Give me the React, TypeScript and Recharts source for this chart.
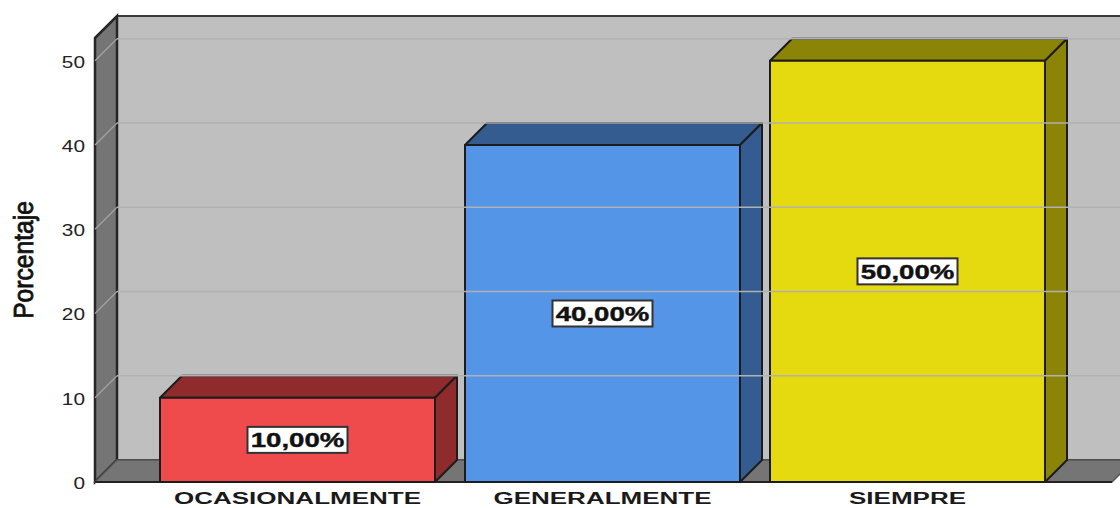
// App.tsx
import React from 'react';
import { BarChart, Bar, XAxis, YAxis, ReferenceArea, ReferenceLine, LabelList } from 'recharts';

// Datos
const categorias = ['OCASIONALMENTE', 'GENERALMENTE', 'SIEMPRE'];
const porcentajes = [10, 40, 50];
const etiquetas = ['10,00%', '40,00%', '50,00%'];
const marcasY = [0, 10, 20, 30, 40, 50];
const coloresFrente = ['#EF4B4D', '#5595E8', '#E5D90F'];
const coloresLado = ['#8F2B2D', '#345C91', '#8C8406'];

const data = categorias.map((name, i) => ({ name, valor: porcentajes[i], etiqueta: etiquetas[i] }));

// profundidad del efecto 3D
const DX = 22;
const DY = 22;
const BORDE = '#1c1c1c';
// relleno del eje X: las paredes se extienden hasta el borde real del área
const PAD_IZQ = 50;
const PAD_DER = 52;

// paredes y piso del fondo
const Paredes = (props: any) => {
  const { y, height } = props;
  const x = props.x - PAD_IZQ;
  const width = props.width + PAD_IZQ + PAD_DER;
  const fondo = y + height - DY;
  return (
    <g>
      <rect x={x + DX} y={y - DY} width={width + 40} height={height} fill="#BFBFBF" stroke="#3a3a3a" strokeWidth={2} />
      <polygon points={`${x},${y} ${x + DX},${y - DY} ${x + DX},${fondo} ${x},${y + height}`} fill="#757575" stroke="#262626" strokeWidth={2.5} />
      <polygon points={`${x},${y + height} ${x + DX},${fondo} ${x + width + DX},${fondo} ${x + width},${y + height}`} fill="#757575" stroke="#555" strokeWidth={1.5} />
      <line x1={x} y1={y + height} x2={x + width} y2={y + height} stroke="#222" strokeWidth={2} />
    </g>
  );
};

// línea de cuadrícula: diagonal en la pared lateral y horizontal en el fondo
const LineaGrid = (props: any) => {
  const { x1, x2, y1 } = props;
  if (y1 === undefined) return null;
  return (
    <g>
      <line x1={x1} y1={y1} x2={x1 + DX} y2={y1 - DY} stroke="#A3A3A3" strokeWidth={1.2} />
      <line x1={x1 + DX} y1={y1 - DY} x2={x2 + 40} y2={y1 - DY} stroke="#B1B1B1" strokeWidth={1.5} />
    </g>
  );
};

const Barra3D = (props: any) => {
  const { x, y, width, height, index } = props;
  return (
    <g stroke={BORDE} strokeWidth={2} strokeLinejoin="round">
      <polygon points={`${x},${y} ${x + DX},${y - DY} ${x + width + DX},${y - DY} ${x + width},${y}`} fill={coloresLado[index]} />
      <polygon points={`${x + width},${y} ${x + width + DX},${y - DY} ${x + width + DX},${y + height - DY} ${x + width},${y + height}`} fill={coloresLado[index]} />
      <rect x={x} y={y} width={width} height={height} fill={coloresFrente[index]} />
    </g>
  );
};

const EtiquetaValor = (props: any) => {
  const { x, y, width, height, value } = props;
  const cx = x + width / 2;
  const cy = y + height / 2;
  return (
    <g>
      <rect x={cx - 50} y={cy - 13} width={100} height={26} fill="#fff" stroke="#333" strokeWidth={2} />
      <g transform={`translate(${cx},${cy}) scale(1.38,1)`}>
        <text textAnchor="middle" dy="0.36em" fontFamily="Liberation Sans" fontWeight="bold" fontSize={20} fill="#111" stroke="#111" strokeWidth={0.4}>{value}</text>
      </g>
    </g>
  );
};

const TickX = (props: any) => {
  const { x, y, payload } = props;
  return (
    <g transform={`translate(${x},${y}) scale(1.53,1)`}>
      <text textAnchor="middle" dy="0.9em" fontFamily="Liberation Sans" fontWeight="bold" fontSize={17} fill="#1a1a1a">{payload.value}</text>
    </g>
  );
};

const TickY = (props: any) => {
  const { x, y, payload } = props;
  return (
    <g transform={`translate(${x},${y + 1}) scale(1.3,1)`}>
      <text textAnchor="end" dy="0.36em" fontFamily="Liberation Sans" fontSize={16} fill="#222">{payload.value}</text>
    </g>
  );
};

const TituloY = (props: any) => {
  const { viewBox } = props;
  const cy = viewBox.y + viewBox.height / 2;
  return (
    <g transform={`translate(33,${cy}) rotate(-90) scale(0.88,1)`}>
      <text textAnchor="middle" fontFamily="Liberation Sans" fontSize={28} fill="#111" stroke="#111" strokeWidth={0.8}>Porcentaje</text>
    </g>
  );
};

export default function App() {
  return (
    <div style={{ width: 1120, height: 508, background: '#fff' }}>
      <style>{'body{margin:0}'}</style>
      <BarChart width={1120} height={508} data={data} margin={{ top: 38, right: 8, bottom: 0, left: 0 }}>
        <XAxis dataKey="name" axisLine={false} tickLine={false} tickSize={0} tickMargin={7} height={26} interval={0}
          padding={{ left: PAD_IZQ, right: PAD_DER }} tick={<TickX />} />
        <YAxis type="number" domain={[0, 52.7]} ticks={marcasY} width={95} axisLine={false} tickLine={false} tickSize={0} tickMargin={10}
          tick={<TickY />}
          label={<TituloY />} />
        <ReferenceArea y1={0} y2={52.7} shape={<Paredes />} />
        {marcasY.slice(1).map((v) => (
          <ReferenceLine key={v} y={v} shape={<LineaGrid />} />
        ))}
        <Bar dataKey="valor" barSize={275} isAnimationActive={false} shape={<Barra3D />}>
          <LabelList dataKey="etiqueta" content={<EtiquetaValor />} />
        </Bar>
      </BarChart>
    </div>
  );
}
